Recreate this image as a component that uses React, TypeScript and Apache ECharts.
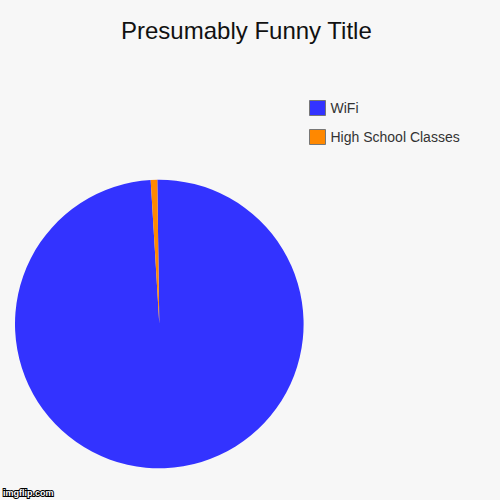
import React, { useEffect, useRef } from 'react';
import * as echarts from 'echarts';

// Chart data
const sliceNames = ['WiFi', 'High School Classes'];
const sliceValues = [99.27, 0.73];
const sliceColors = ['#3333ff', '#ff8800'];

const titleText = 'Presumably Funny Title';
const watermarkText = 'imgflip.com';

export default function App() {
  const containerRef = useRef<HTMLDivElement>(null);

  useEffect(() => {
    if (!containerRef.current) return;
    document.body.style.margin = '0';

    const chart = echarts.init(containerRef.current, undefined, { renderer: 'svg' });
    chart.setOption({
      animation: false,
      backgroundColor: '#f7f7f7',
      textStyle: { fontFamily: '"Liberation Sans", Arial, sans-serif' },
      title: {
        text: titleText,
        left: 116,
        top: 13,
        textStyle: { fontSize: 24, fontWeight: 'normal', color: '#111' },
      },
      legend: {
        orient: 'vertical',
        left: 304,
        top: 95,
        padding: 5,
        itemWidth: 16,
        itemHeight: 15,
        itemGap: 13,
        icon: 'rect',
        itemStyle: { borderColor: '#777', borderWidth: 1 },
        textStyle: { fontSize: 14, color: '#333' },
        data: sliceNames,
      },
      series: [
        {
          type: 'pie',
          center: [159.3, 324],
          radius: 144.3,
          startAngle: 90.8,
          clockwise: true,
          label: { show: false },
          labelLine: { show: false },
          emphasis: { disabled: true },
          data: sliceNames.map((name, i) => ({
            name,
            value: sliceValues[i],
            itemStyle: { color: sliceColors[i] },
          })),
        },
      ],
      graphic: [
        {
          type: 'text',
          left: 2,
          top: 487,
          style: {
            text: watermarkText,
            fontSize: 9,
            fontWeight: 'bold',
            fill: '#fff',
            stroke: '#000',
            lineWidth: 2,
            fontFamily: '"Liberation Sans", Arial, sans-serif',
          },
        },
      ],
    });

    return () => {
      chart.dispose();
    };
  }, []);

  return (
    <div
      ref={containerRef}
      style={{ position: 'absolute', left: 0, top: 0, width: 500, height: 500 }}
    />
  );
}
